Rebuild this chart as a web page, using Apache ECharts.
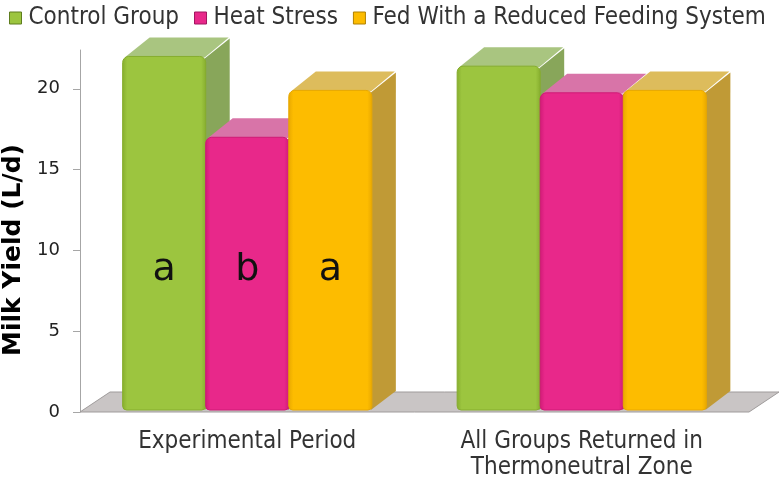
<!DOCTYPE html>
<html>
<head>
<meta charset="utf-8">
<script src="https://cdn.jsdelivr.net/npm/echarts@6/dist/echarts.min.js"></script>
<style>html,body{margin:0;padding:0;background:#fff;}#main{width:780px;height:480px;}</style>
</head>
<body>
<div id="main"></div>
<script>
const categories = ['Experimental Period', 'All Groups Returned in\nThermoneutral Zone'];
const seriesNames = ['Control Group', 'Heat Stress', 'Fed With a Reduced Feeding System'];
const controlGroup = [22.0, 21.4];
const heatStress = [17.0, 19.75];
const reducedFeeding = [19.9, 19.9];
const lettersControl = ['a', ''];
const lettersHeat = ['b', ''];
const lettersReduced = ['a', ''];
const yMin = 0, yMax = 22.4, yInterval = 5;

const palette = [
  {front: '#9cc53f', edge: '#86ad2e', top: '#a9c580', side: '#88a65a', border: '#5e7d1e'},
  {front: '#e8288a', edge: '#cf1a76', top: '#d874a8', side: '#b23a75', border: '#a01560'},
  {front: '#fdbc00', edge: '#e8a800', top: '#ddbc5c', side: '#c09a36', border: '#b08000'}
];
const valueSets = [controlGroup, heatStress, reducedFeeding];
const letterSets = [lettersControl, lettersHeat, lettersReduced];

const DX = 24, DY = -19;

function makeRender(s) {
  return function (params, api) {
    const ci = api.value(0), v = api.value(1);
    const letter = letterSets[s][params.dataIndex];
    const topPt = api.coord([ci, v]);
    const basePt = api.coord([ci, 0]);
    const band = api.size([1, 0])[0];
    const barW = band * 0.745 / 3;
    const left = topPt[0] - 1.5 * barW + s * barW;
    const right = left + barW;
    const ty = topPt[1], by = basePt[1] - 2;
    const c = palette[s];
    const children = [
      {type: 'polygon', z2: s * 10 + 1,
       shape: {points: [[right - 1, ty + 2], [right + DX, ty + DY + 1], [right + DX, by + DY], [right - 1, by]]},
       style: {fill: c.side}},
      {type: 'polygon', z2: s * 10 + 2,
       shape: {points: [[left + 2, ty + 1], [left + DX + 3, ty + DY], [right + DX - 1, ty + DY], [right - 1, ty + 1]]},
       style: {fill: c.top}},
      {type: 'rect', z2: s * 10 + 3,
       shape: {x: left, y: ty, width: barW, height: by - ty, r: [6, 6, 4, 4]},
       style: {fill: new echarts.graphic.LinearGradient(0, 0, 1, 0, [
         {offset: 0, color: c.edge}, {offset: 0.06, color: c.front},
         {offset: 0.94, color: c.front}, {offset: 1, color: c.edge}]),
         stroke: c.edge, lineWidth: 1}}
    ];
    if (letter) {
      children.push({type: 'text', z2: s * 10 + 5,
        style: {text: letter, x: (left + right) / 2, y: api.coord([ci, 8.8])[1],
          align: 'center', verticalAlign: 'middle',
          font: '38px "DejaVu Sans"', fill: '#111'}});
    }
    return {type: 'group', children: children};
  };
}

function floorRender(params, api) {
  const cs = params.coordSys;
  const x0 = cs.x, x1 = cs.x + cs.width, y = cs.y + cs.height;
  return {type: 'polygon', z2: 0,
    shape: {points: [[x0, y], [x1, y], [x1 + 30, y - 20], [x0 + 30, y - 20]]},
    style: {fill: '#c9c5c5', stroke: '#9f9b9b', lineWidth: 1}};
}

const series = [{
  type: 'custom', name: 'floor', silent: true, z: 1,
  renderItem: floorRender, data: [[0, 0]], encode: {x: 0, y: 1}
}];
seriesNames.forEach(function (name, s) {
  series.push({
    type: 'custom', name: name, z: 2,
    itemStyle: {color: palette[s].front},
    renderItem: makeRender(s),
    encode: {x: 0, y: 1},
    data: valueSets[s].map(function (v, i) { return [i, v]; })
  });
});

const chart = echarts.init(document.getElementById('main'), null, {renderer: 'canvas'});
chart.setOption({
  animation: false,
  backgroundColor: '#fff',
  grid: {left: 80, right: 31, top: 50, bottom: 68, containLabel: false, outerBoundsMode: 'none'},
  legend: {
    top: 1, left: 4, itemGap: 15, itemWidth: 12, itemHeight: 12, icon: 'rect',
    textStyle: {fontFamily: 'DejaVu Sans Condensed', fontSize: 24, color: '#333', padding: [0, 0, 0, 2]},
    data: seriesNames.map(function (n, s) {
      return {name: n, itemStyle: {borderColor: palette[s].border, borderWidth: 1}};
    })
  },
  xAxis: {
    type: 'category', data: categories,
    axisLine: {show: false}, axisTick: {show: false},
    axisLabel: {margin: 17, fontFamily: 'DejaVu Sans Condensed', fontSize: 24, color: '#333', lineHeight: 26}
  },
  yAxis: {
    type: 'value', min: yMin, max: yMax, interval: yInterval,
    name: 'Milk Yield (L/d)', nameLocation: 'middle', nameRotate: 90, nameGap: 51,
    nameTextStyle: {fontFamily: 'DejaVu Sans', fontWeight: 'bold', fontSize: 25, color: '#000', padding: [0, 38, 0, 0]},
    axisLine: {show: true, lineStyle: {color: '#a6a6a6'}},
    axisTick: {show: true, length: 7, lineStyle: {color: '#a6a6a6'}},
    axisLabel: {margin: 20, showMaxLabel: false, fontFamily: 'DejaVu Sans', fontSize: 18, color: '#222'},
    splitLine: {show: false}
  },
  series: series
});
</script>
</body>
</html>
